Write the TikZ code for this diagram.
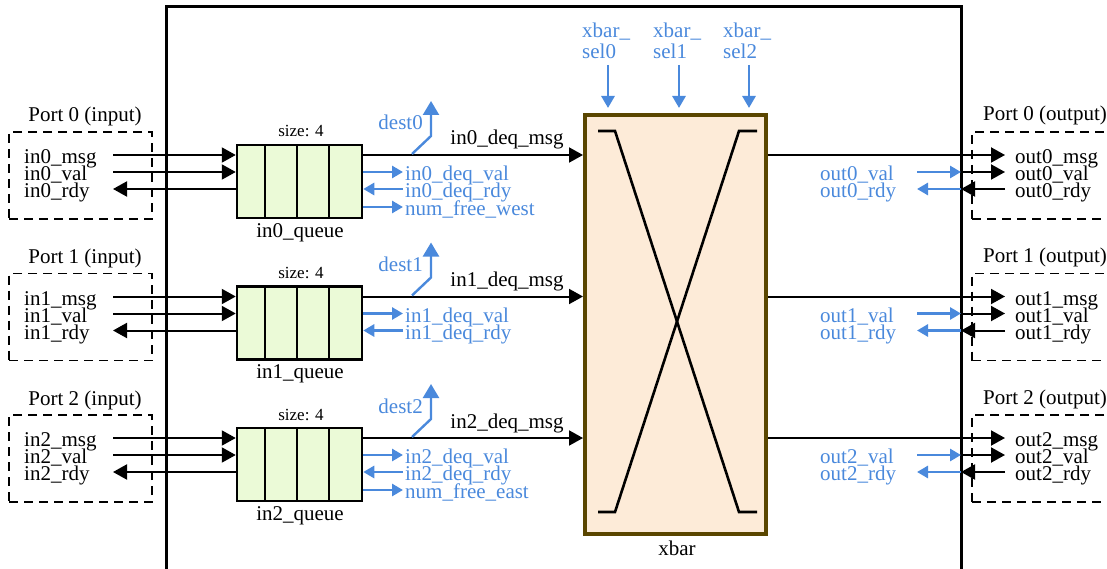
\documentclass[tikz,border=0pt]{standalone}
\usepackage{fontspec}
\setmainfont{Liberation Serif}
\usetikzlibrary{arrows.meta,calc}
\definecolor{sigblue}{HTML}{4A89DC}
\definecolor{qfill}{HTML}{EBFAD7}
\definecolor{xfill}{HTML}{FDEBD8}
\definecolor{xborder}{HTML}{5A4600}
\tikzset{
  txt/.style={font=\fontsize{21}{21}\selectfont, inner sep=0pt, anchor=base},
  btxt/.style={txt, text=sigblue},
  small/.style={font=\fontsize{17}{17}\selectfont, inner sep=0pt, anchor=base},
  portbox/.style={draw, dashed, dash pattern=on 9pt off 6pt, line width=1.4pt, inner sep=0pt, minimum height=87pt},
  queuebox/.style={draw, fill=qfill, line width=2.5pt, inner sep=0pt, minimum width=125pt, minimum height=73pt},
  blk/.style={line width=2pt, -{Triangle[length=14pt,width=15pt]}},
  bsig/.style={draw=sigblue, line width=2.8pt, -{Triangle[length=11pt,width=12pt]}, color=sigblue},
  selarr/.style={draw=sigblue, line width=2.8pt, -{Triangle[length=12pt,width=13pt]}, color=sigblue},
  destarr/.style={draw=sigblue, line width=2.4pt, -{Triangle[length=14pt,width=16pt]}, color=sigblue},
  xline/.style={line width=2.6pt}
}
\begin{document}
\begin{tikzpicture}[x=1pt,y=-1pt]
\useasboundingbox (0,0) rectangle (1107,569);
% outer boundary
\draw[line width=3pt] (166,580) -- (166,7) -- (961,7) -- (961,580);
% crossbar
\node[draw=xborder, fill=xfill, line width=4pt, inner sep=0pt, minimum width=181pt, minimum height=419pt] (xbar) at (675.5,324.5) {};
\node[txt] (xbarlbl) at (677,555) {xbar};
\draw[xline] (598,131) -- (615,131) -- (739,512) -- (757,512);
\draw[xline] (757,131) -- (739,131) -- (615,512) -- (598,512);
% select signals
\foreach \k/\xl/\xa in {0/582/608, 1/653/679, 2/723/749} {
  \node[btxt, anchor=base west] (selA\k) at (\xl,38) {xbar\_};
  \node[btxt, anchor=base west] (selB\k) at (\xl,59) {sel\k};
  \coordinate (selS\k) at (\xa,65);
  \coordinate (selE\k) at (\xa,108);
  \draw[selarr] (selS\k) -- (selE\k);
}
\foreach \k in {0,1,2} {
  \pgfmathsetmacro\o{141.5*\k}
  \pgfmathsetmacro\ya{155+\o}
  \pgfmathsetmacro\yb{172+\o}
  \pgfmathsetmacro\yc{189+\o}
  % input port
  \node[portbox, minimum width=143pt] (pin\k) at (80.5,175.5+\o) {};
  \node[txt] (pinl\k) at (85,122+\o) {Port \k{} (input)};
  \node[txt, anchor=base west] (im\k) at (24,\ya+8.5) {in\k\_msg};
  \node[txt, anchor=base west] (iv\k) at (24,\yb+8.5) {in\k\_val};
  \node[txt, anchor=base west] (ir\k) at (24,\yc+8.5) {in\k\_rdy};
  % queue
  \node[queuebox] (q\k) at (299.5,181.5+\o) {};
  \draw[line width=1.5pt] (265,145+\o) -- (265,218+\o);
  \draw[line width=1.5pt] (297,145+\o) -- (297,218+\o);
  \draw[line width=1.5pt] (329,145+\o) -- (329,218+\o);
  \node[small] (qs\k) at (301,137+\o) {size: 4};
  \node[txt] (qn\k) at (300,237+\o) {in\k\_queue};
  % input arrows
  \coordinate (ima\k) at (113,\ya);
  \coordinate (iva\k) at (113,\yb);
  \coordinate (ira\k) at (113,\yc);
  \draw[blk] (ima\k) -- (ima\k -| q\k.west);
  \draw[blk] (iva\k) -- (iva\k -| q\k.west);
  \draw[blk] (ira\k -| q\k.west) -- (ira\k);
  % deq msg
  \coordinate (dm\k) at (583,\ya);
  \draw[blk] (dm\k -| q\k.east) -- (dm\k);
  \node[txt] (dml\k) at (507,145+\o) {in\k\_deq\_msg};
  % dest
  \coordinate (ds\k) at (412,154+\o);
  \coordinate (dk\k) at (431,136+\o);
  \coordinate (de\k) at (431,101+\o);
  \draw[destarr] (ds\k) -- (dk\k) -- (de\k);
  \node[btxt, anchor=base east] (dl\k) at (423,130+\o) {dest\k};
  % blue deq signals
  \coordinate (dv\k) at (403,\yb);
  \coordinate (dr\k) at (403,\yc);
  \draw[bsig] (dv\k -| q\k.east) -- (dv\k);
  \draw[bsig] (dr\k) -- (dr\k -| q\k.east);
  \node[btxt, anchor=base west] (dvl\k) at (405,\yb+8.5) {in\k\_deq\_val};
  \node[btxt, anchor=base west] (drl\k) at (405,\yc+8.5) {in\k\_deq\_rdy};
  % output port
  \node[portbox, minimum width=150pt] (pout\k) at (1047,175.5+\o) {};
  \node[txt, anchor=base west] (poutl\k) at (983,121+\o) {Port \k{} (output)};
  \node[txt, anchor=base west] (om\k) at (1015,\ya+8.5) {out\k\_msg};
  \node[txt, anchor=base west] (ov\k) at (1015,\yb+8.5) {out\k\_val};
  \node[txt, anchor=base west] (or\k) at (1015,\yc+8.5) {out\k\_rdy};
  \coordinate (oma\k) at (1005,\ya);
  \coordinate (ova\k) at (1005,\yb);
  \coordinate (ora\k) at (1005,\yc);
  \coordinate (ovb\k) at (961,\yb);
  \coordinate (orb\k) at (961,\yc);
  \draw[blk] (oma\k -| xbar.east) -- (oma\k);
  \draw[blk] (ovb\k) -- (ova\k);
  \draw[blk] (ora\k) -- (orb\k);
  \coordinate (bvs\k) at (917,\yb);
  \coordinate (brs\k) at (917,\yc);
  \draw[bsig] (bvs\k) -- (ovb\k);
  \draw[bsig] (orb\k) -- (brs\k);
  \node[btxt, anchor=base west] (bvl\k) at (820,\yb+8.5) {out\k\_val};
  \node[btxt, anchor=base west] (brl\k) at (820,\yc+8.5) {out\k\_rdy};
}
% num_free signals
\coordinate (nfw) at (403,207);
\draw[bsig] (nfw -| q0.east) -- (nfw);
\node[btxt, anchor=base west] (nfwl) at (405,215.5) {num\_free\_west};
\coordinate (nfe) at (403,490);
\draw[bsig] (nfe -| q2.east) -- (nfe);
\node[btxt, anchor=base west] (nfel) at (405,498.5) {num\_free\_east};
\end{tikzpicture}
\end{document}
